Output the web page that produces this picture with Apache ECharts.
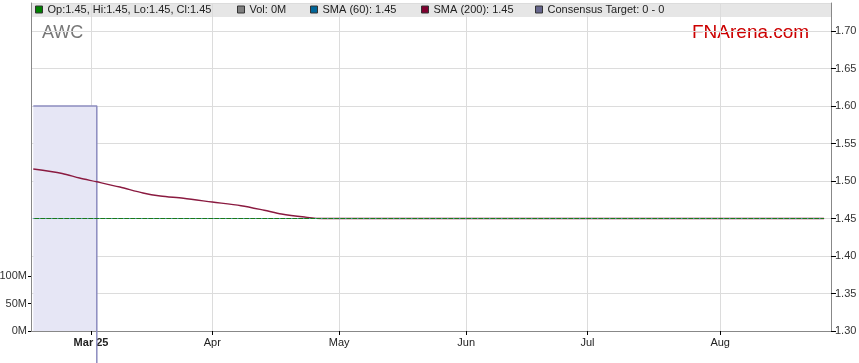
<!DOCTYPE html>
<html>
<head>
<meta charset="utf-8">
<script src="https://cdn.jsdelivr.net/npm/echarts@6/dist/echarts.min.js"></script>
<style>
html,body{margin:0;padding:0;background:#fff;}
#chart{width:859px;height:363px;}
</style>
</head>
<body>
<div id="chart"></div>
<script>
// ---- data ----
const baseDate = '2025-02-17';           // first trading day shown
const monthTickDates = ['2025-03-03','2025-04-01','2025-05-01','2025-06-02','2025-07-01','2025-08-01'];
const monthTickLabels = ['Mar 25','Apr','May','Jun','Jul','Aug'];

const priceDates  = ['2025-02-17','2025-08-27'];
const priceValues = [1.45, 1.45];

const volDates  = ['2025-02-17','2025-08-27'];
const volValues = [0, 0];

const sma60Dates  = ['2025-02-17','2025-08-27'];
const sma60Values = [1.45, 1.45];

const sma200Dates  = ['2025-02-17','2025-02-24','2025-02-27','2025-03-04','2025-03-10','2025-03-14','2025-03-19','2025-03-25','2025-04-01','2025-04-08','2025-04-14','2025-04-17','2025-04-23','2025-04-28','2025-08-27'];
const sma200Values = [1.516, 1.510, 1.504, 1.499, 1.492, 1.484, 1.480, 1.477, 1.472, 1.467, 1.461, 1.456, 1.452, 1.450, 1.450];

const targetDates  = ['2025-02-17','2025-03-04','2025-03-04'];
const targetValues = [1.60, 1.60, 0];

const volTicks = [0, 50e6, 100e6];

const legendNames = ['Op:1.45, Hi:1.45, Lo:1.45, Cl:1.45','Vol: 0M','SMA (60): 1.45','SMA (200): 1.45','Consensus Target: 0 - 0'];
const legendColors = ['#008000','#808080','#006699','#7f0030','#66668c'];

// ---- helpers: trading-day (weekday) index ----
function wdIndex(s){
  const b = new Date(baseDate + 'T00:00:00Z');
  const d = new Date(s + 'T00:00:00Z');
  let n = 0;
  const step = d >= b ? 1 : -1;
  const cur = new Date(b);
  while (cur.getTime() !== d.getTime()) {
    cur.setUTCDate(cur.getUTCDate() + step);
    const w = cur.getUTCDay();
    if (w !== 0 && w !== 6) n += step;
  }
  return n;
}
const pairs = (ds, vs) => ds.map((d, i) => [wdIndex(d), vs[i]]);
const monthTickIdx = monthTickDates.map(wdIndex);

const chart = echarts.init(document.getElementById('chart'), null, {renderer:'canvas'});
const FONT = 'Liberation Sans, Arial, sans-serif';

const legendLefts = [35, 237, 310, 421, 535];
const legends = legendNames.map((n, i) => ({
  left: legendLefts[i], top: 4, padding: 0,
  icon: 'rect', itemWidth: 7, itemHeight: 7,
  textStyle: {fontSize: 11, color: '#222', fontFamily: FONT},
  itemStyle: {borderColor: '#333', borderWidth: 1},
  selectedMode: false,
  data: [{name: n, itemStyle: {color: legendColors[i]}}]
}));

chart.setOption({
  animation: false,
  backgroundColor: '#ffffff',
  textStyle: {fontFamily: FONT},
  grid: {left: 31, right: 28, top: 3, bottom: 32, containLabel: false, outerBoundsMode: 'none'},
  graphic: [
    {type:'rect', z:-10, shape:{x:31, y:3, width:800, height:14}, style:{fill:'#e6e6e6'}},
    {type:'text', left: 42, top: 24, style:{text:'AWC', font:'18px ' + FONT, fill:'#777777'}},
    {type:'text', left: 692, top: 23, style:{text:'FNArena.com', font:'19px ' + FONT, fill:'#cc0000'}}
  ],
  legend: legends,
  xAxis: {
    type: 'value', min: -0.4, max: 138.2,
    axisLine: {show: true, onZero: false, lineStyle: {color: '#888'}},
    axisTick: {show: true, customValues: monthTickIdx, length: 4, lineStyle: {color: '#000'}},
    axisLabel: {
      customValues: monthTickIdx, margin: 6, fontSize: 11, color: '#222',
      formatter: v => {
        const i = monthTickIdx.indexOf(v);
        if (i < 0) return '';
        return i === 0 ? '{b|' + monthTickLabels[i] + '}' : monthTickLabels[i];
      },
      rich: {b: {fontWeight: 'bold', fontSize: 11, color: '#222'}}
    },
    splitLine: {show: true, lineStyle: {color: '#dcdcdc', width: 1}}
  },
  yAxis: [
    {
      type: 'value', position: 'right', min: 1.30, max: 1.30 + 328/750, interval: 0.05,
      axisLine: {show: true, onZero: false, lineStyle: {color: '#888'}},
      axisTick: {show: true, length: 5, lineStyle: {color: '#000'}},
      axisLabel: {showMaxLabel: false, fontSize: 11, color: '#333', margin: 4, formatter: v => v.toFixed(2)},
      splitLine: {show: true, lineStyle: {color: '#dcdcdc'}}
    },
    {
      type: 'value', position: 'left', min: 0, max: 328/27.5*50e6,
      axisLine: {show: true, onZero: false, lineStyle: {color: '#888'}},
      axisTick: {show: true, customValues: volTicks, length: 3, lineStyle: {color: '#000'}},
      axisLabel: {customValues: volTicks, fontSize: 11, color: '#333', margin: 4, formatter: v => (v/1e6) + 'M'},
      splitLine: {show: false}
    }
  ],
  series: [
    {
      name: legendNames[4], type: 'line', yAxisIndex: 0, clip: false, z: 1,
      data: pairs(targetDates, targetValues),
      symbol: 'none',
      lineStyle: {color: '#8c8cbf', width: 1.5},
      itemStyle: {color: legendColors[4]},
      areaStyle: {color: '#e6e6f5', opacity: 1, origin: 'start'}
    },
    {
      name: legendNames[1], type: 'line', yAxisIndex: 1, z: 2,
      data: pairs(volDates, volValues), symbol: 'none',
      lineStyle: {opacity: 0}, itemStyle: {color: legendColors[1]}
    },
    {
      name: legendNames[3], type: 'line', yAxisIndex: 0, z: 3,
      data: pairs(sma200Dates, sma200Values), smooth: 0.3, symbol: 'none',
      lineStyle: {color: '#8a1a40', width: 1.3}, itemStyle: {color: legendColors[3]}
    },
    {
      name: legendNames[0], type: 'line', yAxisIndex: 0, z: 4,
      data: pairs(priceDates, priceValues), symbol: 'none',
      lineStyle: {color: '#1a7a1a', width: 1}, itemStyle: {color: legendColors[0]}
    },
    {
      name: legendNames[2], type: 'line', yAxisIndex: 0, z: 5,
      data: pairs(sma60Dates, sma60Values), symbol: 'none',
      lineStyle: {color: '#66aadd', width: 1, type: [1, 5]}, itemStyle: {color: legendColors[2]}
    }
  ]
});
</script>
</body>
</html>
